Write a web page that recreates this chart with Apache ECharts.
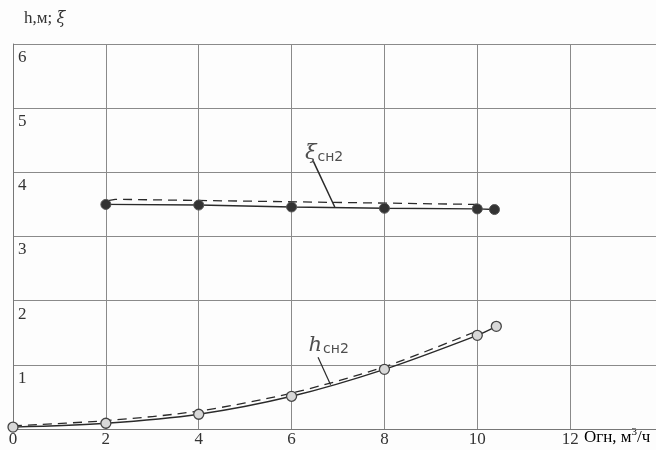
<!DOCTYPE html>
<html>
<head>
<meta charset="utf-8">
<script src="https://cdn.jsdelivr.net/npm/echarts@6/dist/echarts.min.js"></script>
<style>
html,body{margin:0;padding:0;background:#fff;}
#c{width:656px;height:450px;}
</style>
</head>
<body>
<div id="c"></div>
<script>
// Data
const xTicks = [0, 2, 4, 6, 8, 10, 12];
const yTicks = [1, 2, 3, 4, 5, 6];
const xiX = [2, 4, 6, 8, 10, 10.37];
const xiSolid = [3.50, 3.49, 3.46, 3.44, 3.43, 3.42];
const xiDashX = [2.05, 2.2, 10.0];
const xiDash = [3.56, 3.58, 3.50];
const hX = [0, 2, 4, 6, 8, 10, 10.41];
const hSolid = [0.03, 0.09, 0.23, 0.51, 0.93, 1.46, 1.60];
const hDashX = [0, 2, 4, 6, 8, 9.9];
const hDash = [0.05, 0.13, 0.28, 0.56, 0.97, 1.50];
const xiLabelPos = [6.7, 4.3];
const xiLeader = [[6.47, 4.17], [6.93, 3.46]];
const hLabelPos = [6.8, 1.3];
const hLeader = [[6.57, 1.12], [6.84, 0.69]];

const zip = (xs, ys) => xs.map((x, i) => [x, ys[i]]);
const serif = '"Liberation Serif", "DejaVu Serif", serif';
const ink = '#2a2a2a';

const chart = echarts.init(document.getElementById('c'));
chart.setOption({
  backgroundColor: '#fdfdfd',
  animation: false,
  title: {
    text: '{a|h,м; }{x|ξ}',
    left: 19, top: 5,
    textStyle: {
      fontFamily: serif, fontWeight: 'normal', fontSize: 17, color: '#333',
      rich: {
        a: { fontFamily: serif, fontSize: 17, color: '#333' },
        x: { fontFamily: '"DejaVu Serif", serif', fontStyle: 'italic', fontSize: 16, color: '#333' }
      }
    }
  },
  grid: { left: 13, top: 44, right: -7, bottom: 21, containLabel: false, outerBoundsMode: 'none' },
  xAxis: {
    type: 'value', min: 0, max: 14, interval: 2,
    axisLine: { show: true, lineStyle: { color: '#777', width: 1 } },
    axisTick: { show: false },
    splitLine: { show: true, lineStyle: { color: '#8a8a8a', width: 1 } },
    axisLabel: {
      margin: 2, fontFamily: serif, fontSize: 17, color: '#333',
      formatter: v => (xTicks.includes(v) ? String(v) : '')
    }
  },
  yAxis: {
    type: 'value', min: 0, max: 6, interval: 1,
    axisLine: { show: true, lineStyle: { color: '#777', width: 1 } },
    axisTick: { show: false },
    splitLine: { show: true, lineStyle: { color: '#8a8a8a', width: 1 } },
    axisLabel: {
      inside: true, margin: 5, verticalAlign: 'top', padding: [5, 0, 0, 0],
      fontFamily: serif, fontSize: 17, color: '#333',
      formatter: v => (yTicks.includes(v) ? String(v) : '')
    }
  },
  graphic: [{
    type: 'text', left: 584, top: 427,
    style: {
      text: '{a|Огн, м}{s|3}{a|/ч}',
      rich: {
        a: { fontFamily: serif, fontSize: 17, color: '#333', verticalAlign: 'bottom' },
        s: { fontFamily: serif, fontSize: 11, color: '#333', padding: [0, 0, 8, 0] }
      }
    }
  }],
  series: [
    {
      type: 'line', data: zip(xiDashX, xiDash), symbol: 'none',
      lineStyle: { color: ink, width: 1.3, type: [9, 6] }, z: 3
    },
    {
      type: 'line', data: zip(xiX, xiSolid), symbol: 'circle', symbolSize: 10,
      itemStyle: { color: '#333', borderColor: '#555', borderWidth: 1 },
      lineStyle: { color: ink, width: 1.4 }, z: 4,
      markLine: {
        silent: true, symbol: 'none', label: { show: false },
        lineStyle: { color: ink, width: 1.5, type: 'solid' },
        data: [[{ coord: xiLeader[0] }, { coord: xiLeader[1] }]]
      }
    },
    {
      type: 'line', data: zip(hDashX, hDash), symbol: 'none', smooth: 0.3,
      lineStyle: { color: ink, width: 1.3, type: [9, 6] }, z: 3
    },
    {
      type: 'line', data: zip(hX, hSolid), symbol: 'circle', symbolSize: 10, smooth: 0.3,
      itemStyle: { color: '#d8d8d8', borderColor: '#444', borderWidth: 1.3 },
      lineStyle: { color: ink, width: 1.4 }, z: 4,
      markLine: {
        silent: true, symbol: 'none', label: { show: false },
        lineStyle: { color: ink, width: 1.2, type: 'solid' },
        data: [[{ coord: hLeader[0] }, { coord: hLeader[1] }]]
      }
    },
    {
      type: 'scatter', symbolSize: 0, silent: true,
      data: [
        { value: xiLabelPos, label: { formatter: '{i|ξ}{s|сн2}' } },
        { value: hLabelPos, label: { formatter: '{i|h}{s|сн2}' } }
      ],
      label: {
        show: true, position: 'inside',
        rich: {
          i: { fontFamily: '"DejaVu Serif", serif', fontStyle: 'italic', fontSize: 21, color: '#222' },
          s: { fontFamily: '"DejaVu Sans", sans-serif', fontSize: 14, color: '#222', padding: [8, 0, 0, 1] }
        }
      }
    }
  ]
});
</script>
</body>
</html>
